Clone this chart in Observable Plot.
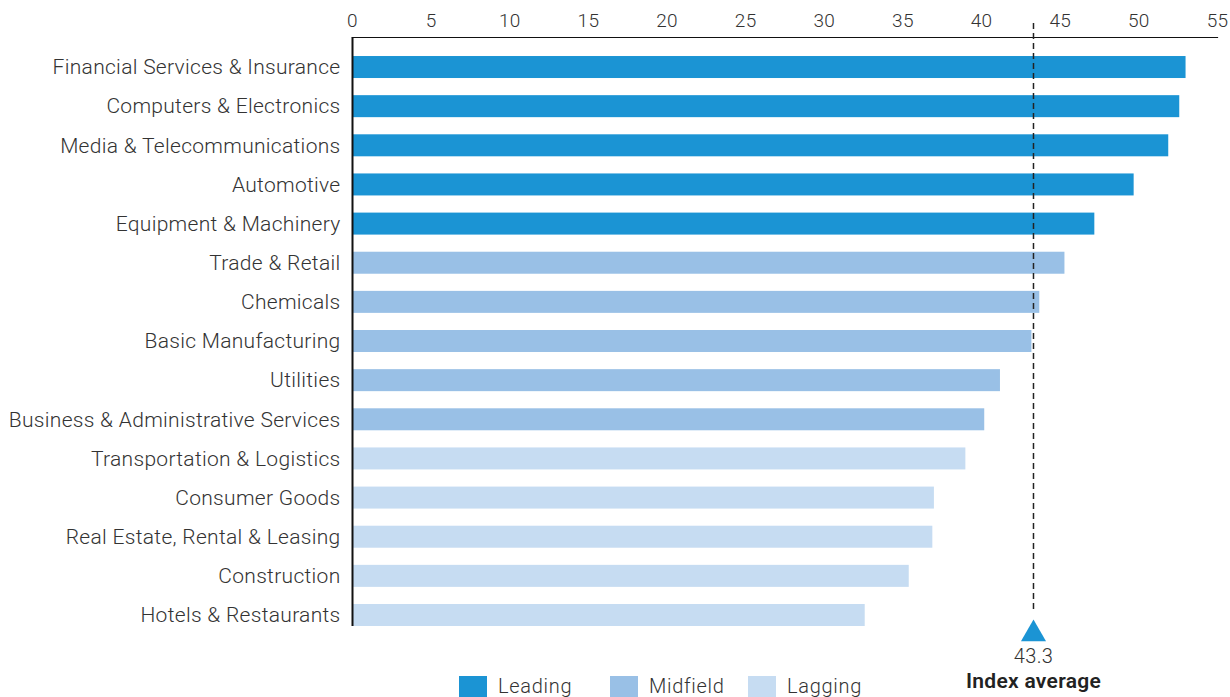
<!DOCTYPE html>
<html>
<head>
<meta charset="utf-8">
<script src="https://cdn.jsdelivr.net/npm/d3@7"></script>
<script src="https://cdn.jsdelivr.net/npm/@observablehq/plot@0.6"></script>
<style>
  body { margin: 0; background: #fff; }
  #wrap { position: relative; width: 1230px; height: 697px; overflow: hidden; font-family: Roboto, "Liberation Sans", sans-serif; }
  #legend { position: absolute; left: 0; top: 676px; width: 1230px; height: 21px; font-size: 20px; font-weight: 300; color: #333; letter-spacing: 0.7px; line-height: 21px; }
  #legend .item { position: absolute; top: 0; display: flex; align-items: center; }
  #legend .sw { width: 28px; height: 21px; margin-right: 11px; }
  svg text { letter-spacing: 0.3px; }
</style>
</head>
<body>
<div id="wrap"></div>
<script>
const sectors = [
  "Financial Services & Insurance",
  "Computers & Electronics",
  "Media & Telecommunications",
  "Automotive",
  "Equipment & Machinery",
  "Trade & Retail",
  "Chemicals",
  "Basic Manufacturing",
  "Utilities",
  "Business & Administrative Services",
  "Transportation & Logistics",
  "Consumer Goods",
  "Real Estate, Rental & Leasing",
  "Construction",
  "Hotels & Restaurants"
];
const scores = [53.0, 52.6, 51.9, 49.7, 47.2, 45.3, 43.7, 43.2, 41.2, 40.2, 39.0, 37.0, 36.9, 35.4, 32.6];
const groups = ["Leading","Leading","Leading","Leading","Leading",
  "Midfield","Midfield","Midfield","Midfield","Midfield",
  "Lagging","Lagging","Lagging","Lagging","Lagging"];
const groupNames = ["Leading", "Midfield", "Lagging"];
const groupColors = ["#1b94d4", "#99c0e6", "#c6dcf2"];
const indexAverage = 43.3;
const indexLabel = "Index average";
const xTicks = [0, 5, 10, 15, 20, 25, 30, 35, 40, 45, 50, 55];

const data = sectors.map((s, i) => ({ sector: s, score: scores[i], group: groups[i] }));

const chart = Plot.plot({
  width: 1230,
  height: 697,
  marginLeft: 352,
  marginRight: 13,
  marginTop: 37,
  marginBottom: 71,
  style: { fontFamily: "Roboto, 'Liberation Sans', sans-serif", fontSize: "20px", color: "#333", background: "#fff", overflow: "visible" },
  x: { domain: [0, 55] },
  y: { domain: sectors, padding: 0.438, paddingOuter: 0.243, align: 1, round: false },
  color: { domain: groupNames, range: groupColors },
  marks: [
    Plot.barX(data, { x: "score", y: "sector", fill: "group" }),
    Plot.axisX({ anchor: "top", ticks: xTicks, tickSize: 0, tickPadding: 11, fontSize: 19, fontWeight: 300, label: null, fill: "#333" }),
    Plot.axisY({ tickSize: 0, tickPadding: 12, fontSize: 21, fontWeight: 300, label: null, fill: "#333" }),
    Plot.ruleX([0], { stroke: "#111", strokeWidth: 2 }),
    Plot.frame({ anchor: "top", stroke: "#111", strokeWidth: 1.2 }),
    Plot.ruleX([indexAverage], { stroke: "#222", strokeWidth: 1.5, strokeDasharray: "6,4", insetTop: -14, insetBottom: 14 }),
    Plot.dot([indexAverage], { x: d => d, frameAnchor: "bottom", dy: 7.4, symbol: "triangle", r: 9.3, fill: "#1b94d4", stroke: "none" }),
    Plot.text([indexAverage], { x: d => d, text: d => d.toFixed(1), frameAnchor: "bottom", dy: 36, fontSize: 20, fontWeight: 300, fill: "#333" }),
    Plot.text([indexLabel], { x: () => indexAverage, text: d => d, frameAnchor: "bottom", dy: 61, fontSize: 21, fontWeight: 600, fill: "#222" })
  ]
});

const wrap = document.getElementById("wrap");
wrap.appendChild(chart);

const legendLeft = [459, 610, 748];
const legend = document.createElement("div");
legend.id = "legend";
groupNames.forEach((g, i) => {
  const item = document.createElement("div");
  item.className = "item";
  item.style.left = legendLeft[i] + "px";
  const sw = document.createElement("div");
  sw.className = "sw";
  sw.style.background = groupColors[i];
  const lab = document.createElement("span");
  lab.textContent = g;
  item.appendChild(sw);
  item.appendChild(lab);
  legend.appendChild(item);
});
wrap.appendChild(legend);
</script>
</body>
</html>
